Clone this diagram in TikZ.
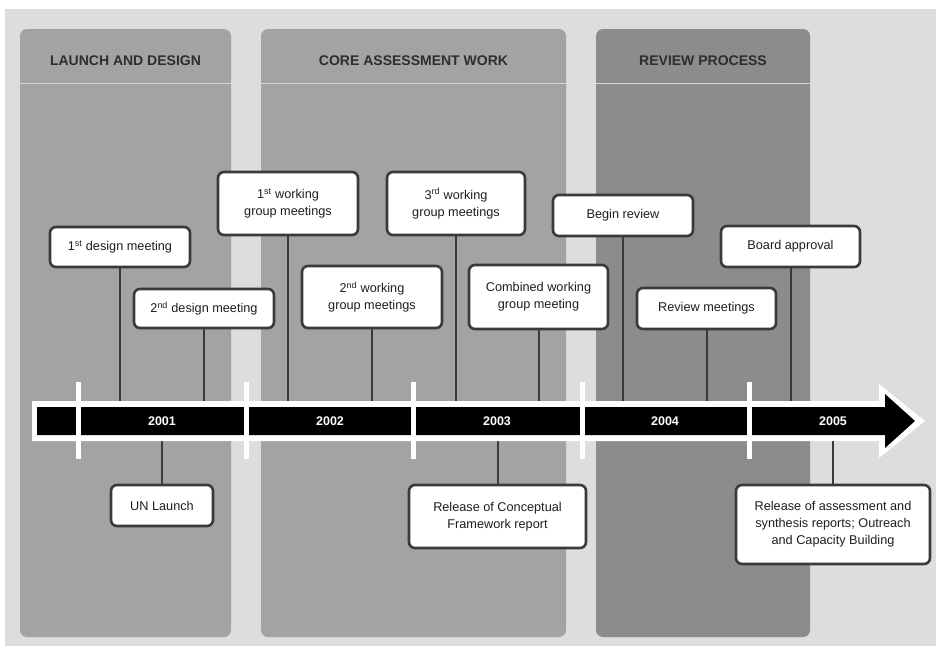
\documentclass[tikz,border=0pt]{standalone}
\usepackage{fontspec}
\setmainfont{Liberation Sans}
\definecolor{bgc}{HTML}{DDDDDD}
\definecolor{panA}{HTML}{A3A3A3}
\definecolor{panB}{HTML}{8C8C8C}
\definecolor{hline}{HTML}{D6D6D6}
\definecolor{edge}{HTML}{3A3A3A}
\definecolor{txt}{HTML}{1E1E1E}
\definecolor{hdrtxt}{HTML}{2E2E2E}
\tikzset{
  evbox/.style={draw=edge, line width=2.6pt, fill=white, rounded corners=6pt,
    align=center, text=txt, inner sep=2pt,
    font=\fontsize{12.7}{17}\selectfont},
  conn/.style={draw=edge, line width=2pt},
  hdr/.style={text=hdrtxt, font=\bfseries\fontsize{14}{16}\selectfont},
  yearlbl/.style={text=white, font=\bfseries\fontsize{12.5}{14}\selectfont},
  tickmark/.style={fill=white}
}
\begin{document}
\begin{tikzpicture}[x=1pt,y=-1pt]
\useasboundingbox (0,0) rectangle (936,646);
\fill[white] (0,0) rectangle (936,646);
\fill[bgc] (5,9) rectangle (936,646);
% panels
\fill[panA, rounded corners=7pt] (20,29) rectangle (231,637);
\fill[panA, rounded corners=7pt] (261,29) rectangle (566,637);
\fill[panB, rounded corners=7pt] (596,29) rectangle (810,637);
\draw[hline, line width=1pt] (20,83) -- (231,83);
\draw[hline, line width=1pt] (261,83) -- (566,83);
\draw[hline, line width=1pt] (596,83) -- (810,83);
\node[hdr] (h1) at (125.5,61) {LAUNCH AND DESIGN};
\node[hdr] (h2) at (413.5,61) {CORE ASSESSMENT WORK};
\node[hdr] (h3) at (703,61) {REVIEW PROCESS};
% bar reference coordinates
\coordinate (bartop) at (0,402);
\coordinate (barbot) at (0,440);
% event boxes
\node[evbox, minimum width=140pt, minimum height=40pt] (d1) at (120,247) {1\textsuperscript{st} design meeting};
\node[evbox, minimum width=140pt, minimum height=39pt] (d2) at (204,308.5) {2\textsuperscript{nd} design meeting};
\node[evbox, minimum width=140pt, minimum height=63pt] (w1) at (288,203.5) {1\textsuperscript{st} working\\group meetings};
\node[evbox, minimum width=140pt, minimum height=62pt] (w2) at (372,297) {2\textsuperscript{nd} working\\group meetings};
\node[evbox, minimum width=138pt, minimum height=63pt] (w3) at (456,203.5) {3\textsuperscript{rd} working\\group meetings};
\node[evbox, minimum width=139pt, minimum height=64pt] (cw) at (538.5,297) {Combined working\\group meeting};
\node[evbox, minimum width=140pt, minimum height=41pt] (br) at (623,215.5) {Begin review};
\node[evbox, minimum width=139pt, minimum height=41pt] (rm) at (706.5,308.5) {Review meetings};
\node[evbox, minimum width=139pt, minimum height=41pt] (ba) at (790.5,246.5) {Board approval};
\node[evbox, minimum width=102pt, minimum height=41pt] (un) at (162,505.5) {UN Launch};
\node[evbox, minimum width=177pt, minimum height=63pt] (rc) at (497.5,516.5) {Release of Conceptual\\Framework report};
\node[evbox, minimum width=194pt, minimum height=79pt] (ra) at (833,524.5) {Release of assessment and\\synthesis reports; Outreach\\and Capacity Building};
% connectors
\foreach \n in {d1,d2,w1,w2,w3,cw,br,rm,ba}{
  \draw[conn] (\n.south) -- (\n.south |- bartop);
}
\foreach \n in {un,rc,ra}{
  \draw[conn] (\n.north) -- (\n.north |- barbot);
}
% arrow bar
\fill[white] (32,401) -- (879,401) -- (879,384) -- (925,421) -- (879,458) -- (879,441) -- (32,441) -- cycle;
\fill[black] (37,407) -- (885,407) -- (885,394) -- (915,421) -- (885,448) -- (885,435) -- (37,435) -- cycle;
% ticks
\foreach \x in {78,246,413,582,749}{
  \fill[tickmark] (\x-2.5,382) rectangle (\x+2.5,459);
}
% years
\node[yearlbl] (y1) at (162,421) {2001};
\node[yearlbl] (y2) at (330,421) {2002};
\node[yearlbl] (y3) at (497,421) {2003};
\node[yearlbl] (y4) at (665,421) {2004};
\node[yearlbl] (y5) at (833,421) {2005};
\end{tikzpicture}
\end{document}
